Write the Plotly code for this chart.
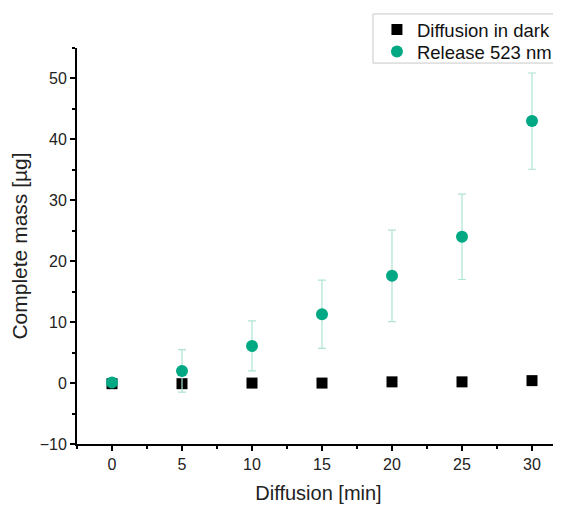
import plotly.graph_objects as go

time_min = [0, 5, 10, 15, 20, 25, 30]
dark_mass = [-0.1, -0.1, 0.0, 0.0, 0.2, 0.2, 0.4]
release_mass = [0.1, 2.0, 6.1, 11.3, 17.6, 24.0, 43.0]
release_err = [0.0, 3.5, 4.1, 5.6, 7.5, 7.0, 7.9]

GREEN = "#00a884"
ERR = "#aee3d5"
FONT = "Liberation Sans, Arial, sans-serif"

fig = go.Figure()
fig.add_trace(go.Scatter(
    x=time_min, y=dark_mass, mode="markers", name="Diffusion in dark",
    marker=dict(symbol="square", size=11, color="black"), legend="legend",
))
fig.add_trace(go.Scatter(
    x=time_min, y=release_mass, mode="markers", name="Release 523 nm",
    marker=dict(symbol="circle", size=12, color=GREEN), legend="legend2",
    error_y=dict(type="data", array=release_err, visible=True,
                 color=ERR, thickness=1.2, width=4),
))

axis_common = dict(
    showline=True, linecolor="black", linewidth=2,
    ticks="outside", tickcolor="black", tickwidth=1.5, ticklen=5,
    showgrid=False, zeroline=False, mirror=False,
    tickfont=dict(family=FONT, size=16, color="#222"),
)

fig.update_xaxes(
    range=[-2.5, 32], tickvals=[0, 5, 10, 15, 20, 25, 30],
    minor=dict(tickvals=[-2.5, 2.5, 7.5, 12.5, 17.5, 22.5, 27.5],
               ticks="outside", ticklen=3, tickcolor="black", tickwidth=1.5),
    title=dict(text="Diffusion [min]", standoff=14,
               font=dict(family=FONT, size=20, color="#222")),
    **axis_common,
)
fig.update_yaxes(
    range=[-10, 55], tickvals=[-10, 0, 10, 20, 30, 40, 50],
    minor=dict(tickvals=[-5, 5, 15, 25, 35, 45, 55],
               ticks="outside", ticklen=3, tickcolor="black", tickwidth=1.5),
    title=dict(text="Complete mass [µg]", standoff=6,
               font=dict(family=FONT, size=21, color="#222")),
    **axis_common,
)

leg_common = dict(xanchor="left", yanchor="middle", borderwidth=0,
                  bgcolor="rgba(0,0,0,0)", itemwidth=30,
                  font=dict(family=FONT, size=18.5, color="#111"))

fig.update_layout(
    width=553, height=499,
    margin=dict(l=69, r=1, t=40, b=63, autoexpand=False),
    plot_bgcolor="white", paper_bgcolor="white",
    showlegend=True,
    legend=dict(x=0.621, y=1.0455, **leg_common),
    legend2=dict(x=0.621, y=0.99, **leg_common),
    shapes=[dict(type="rect", xref="paper", yref="paper",
                 x0=0.6128, x1=0.999, y0=0.962, y1=1.086,
                 line=dict(color="#c8c8c8", width=1), fillcolor="white",
                 layer="above")],
)

fig.write_html("out.html")
